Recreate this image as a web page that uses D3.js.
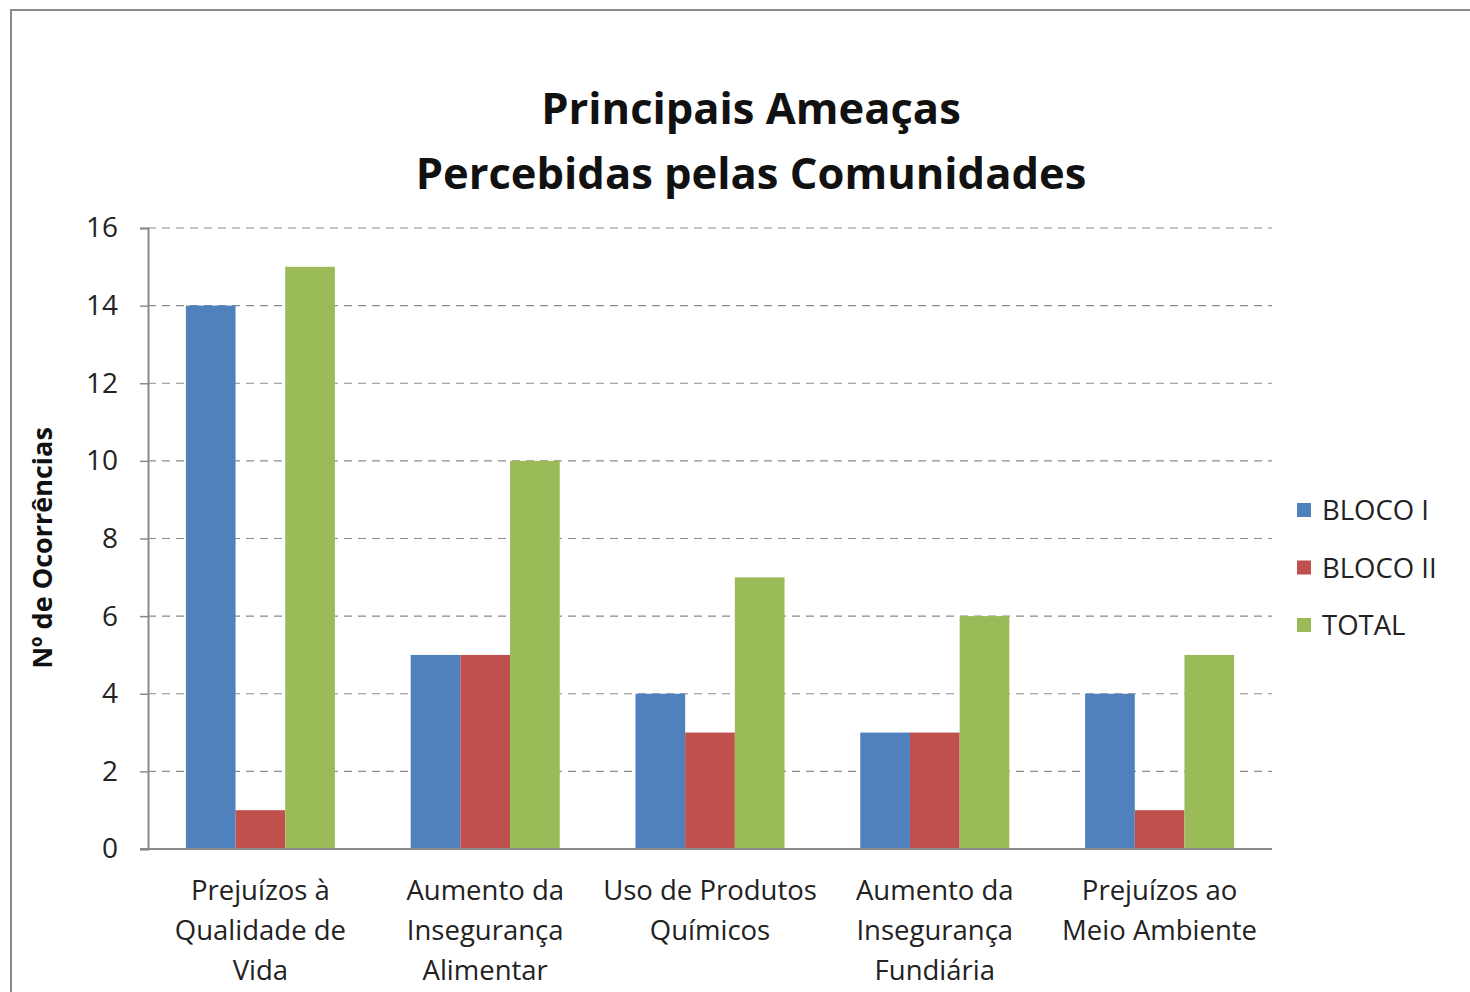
<!DOCTYPE html>
<html>
<head>
<meta charset="utf-8">
<script src="https://cdn.jsdelivr.net/npm/d3@7"></script>
<style>
  html, body { margin: 0; padding: 0; background: #fff; }
  svg { display: block; }
</style>
</head>
<body>
<svg id="chart" width="1470" height="992"></svg>
<script>
const categories = [
  ["Prejuízos à", "Qualidade de", "Vida"],
  ["Aumento da", "Insegurança", "Alimentar"],
  ["Uso de Produtos", "Químicos"],
  ["Aumento da", "Insegurança", "Fundiária"],
  ["Prejuízos ao", "Meio Ambiente"]
];
const seriesNames = ["BLOCO I", "BLOCO II", "TOTAL"];
const blocoI  = [14, 5, 4, 3, 4];
const blocoII = [1, 5, 3, 3, 1];
const total   = [15, 10, 7, 6, 5];
const yTicks = [0, 2, 4, 6, 8, 10, 12, 14, 16];
const colors = ["#4F81BD", "#C0504D", "#9BBB59"];
const titleLines = ["Principais Ameaças", "Percebidas pelas Comunidades"];
const yTitle = "Nº de Ocorrências";

(function () {
const series = [blocoI, blocoII, total];
const svg = d3.select("#chart");
const font = "Open Sans, 'Liberation Sans', sans-serif";

// border
svg.append("rect").attr("x", 11).attr("y", 10).attr("width", 1480).attr("height", 1000)
  .attr("fill", "#fff").attr("stroke", "#8a8a8a").attr("stroke-width", 2);

const pLeft = 148, pRight = 1272, pTop = 228, pBottom = 849;
const y = d3.scaleLinear().domain([0, 16]).range([pBottom, pTop]);
const x0 = d3.scaleBand().domain(d3.range(categories.length)).range([pLeft, pRight])
  .paddingInner(0.337).paddingOuter(0.337 / 2);
const x1 = d3.scaleBand().domain(d3.range(series.length)).range([0, x0.bandwidth()]);

// gridlines
svg.append("g").selectAll("line").data(yTicks.filter(d => d !== 0)).join("line")
  .attr("x1", pLeft).attr("x2", pRight)
  .attr("y1", d => y(d)).attr("y2", d => y(d))
  .attr("stroke", "#8c8c8c").attr("stroke-width", 1.2)
  .attr("stroke-dasharray", "8,6");

// bars
const groups = svg.append("g").selectAll("g").data(categories).join("g")
  .attr("transform", (d, i) => `translate(${x0(i)},0)`);
groups.selectAll("rect").data((d, i) => series.map((s, j) => ({ j, v: s[i] }))).join("rect")
  .attr("x", d => x1(d.j)).attr("width", x1.bandwidth())
  .attr("y", d => y(d.v)).attr("height", d => pBottom - y(d.v))
  .attr("fill", d => colors[d.j]);

// y axis
const yAxis = svg.append("g").attr("transform", `translate(${pLeft},0)`)
  .call(d3.axisLeft(y).tickValues(yTicks).tickSize(8).tickPadding(22));
yAxis.select(".domain").attr("stroke", "#8a8a8a").attr("stroke-width", 2);
yAxis.selectAll(".tick line").attr("stroke", "#8a8a8a").attr("stroke-width", 1.5);
yAxis.selectAll(".tick text").attr("font-family", font).attr("font-size", 28).attr("fill", "#222");

// x axis line
svg.append("line").attr("x1", pLeft - 8).attr("x2", pRight).attr("y1", pBottom).attr("y2", pBottom)
  .attr("stroke", "#8a8a8a").attr("stroke-width", 2);

// x labels
const xl = svg.append("g").selectAll("text").data(categories).join("text")
  .attr("x", (d, i) => x0(i) + x0.bandwidth() / 2)
  .attr("y", 900)
  .attr("text-anchor", "middle")
  .attr("font-family", font).attr("font-size", 27.5).attr("fill", "#222");
xl.selectAll("tspan").data(d => d).join("tspan")
  .attr("x", function () { return d3.select(this.parentNode).attr("x"); })
  .attr("dy", (d, i) => i === 0 ? 0 : 40)
  .text(d => d);

// title
svg.append("g").selectAll("text").data(titleLines).join("text")
  .attr("x", 751).attr("y", (d, i) => 124 + i * 65)
  .attr("text-anchor", "middle")
  .attr("font-family", font).attr("font-weight", "bold").attr("font-size", 43.5).attr("fill", "#111")
  .text(d => d);

// y title
svg.append("text").attr("transform", "translate(52,548) rotate(-90)")
  .attr("text-anchor", "middle")
  .attr("font-family", font).attr("font-weight", "bold").attr("font-size", 27).attr("fill", "#111")
  .text(yTitle);

// legend
const lg = svg.append("g").selectAll("g").data(seriesNames).join("g")
  .attr("transform", (d, i) => `translate(1297,${510 + i * 57.5})`);
lg.append("rect").attr("x", 0).attr("y", -7).attr("width", 14).attr("height", 14)
  .attr("fill", (d, i) => colors[i]);
lg.append("text").attr("x", 25).attr("y", 10)
  .attr("font-family", font).attr("font-size", 27.5).attr("fill", "#222")
  .text(d => d);
})();
</script>
</body>
</html>
